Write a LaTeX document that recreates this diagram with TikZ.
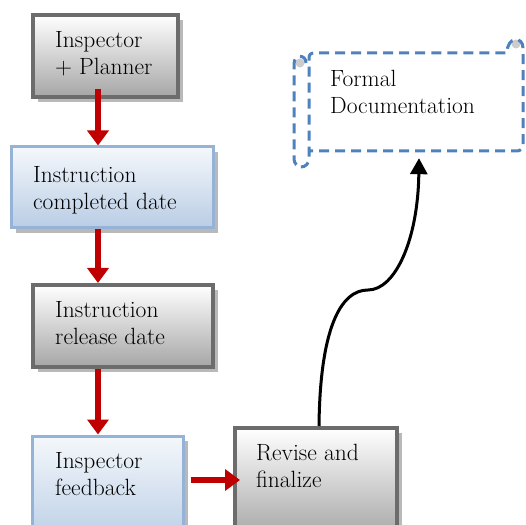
\documentclass[tikz,border=0pt]{standalone}
\usepackage{fontspec}
\usetikzlibrary{arrows.meta}
\usetikzlibrary{shadows}

\definecolor{boxgray}{RGB}{108,108,108}
\definecolor{boxblue}{RGB}{149,179,215}
\definecolor{shadeblue}{RGB}{185,205,229}
\definecolor{flowred}{RGB}{192,0,0}
\definecolor{scrollblue}{RGB}{79,129,189}

\begin{document}
\begin{tikzpicture}[x=1pt,y=1pt, font=\fontsize{23.5}{27}\selectfont,
    boxshadow/.style={drop shadow={shadow xshift=5pt, shadow yshift=-5pt, fill=gray!55, opacity=1}},
    graybox/.style={draw=boxgray, line width=4pt, top color=white, bottom color=gray!70, anchor=north west, inner sep=0pt, boxshadow},
    bluebox/.style={draw=boxblue, line width=3pt, top color=white!85!shadeblue, bottom color=shadeblue, anchor=north west, inner sep=0pt, boxshadow},
    lbl/.style={anchor=north west, inner sep=0pt, align=left},
    redarrow/.style={draw=flowred, line width=6pt, -{Triangle[width=21pt,length=15pt]}}]
      \useasboundingbox (0,0) rectangle (526,524);
      \clip (0,0) rectangle (526,524);

      % boxes
      \node[graybox, minimum width=145pt, minimum height=82pt] (planner) at (31,511) {};
      \node[bluebox, minimum width=202pt, minimum height=81pt] (completed) at (9.5,378.5) {};
      \node[graybox, minimum width=180pt, minimum height=82pt] (release) at (31,241) {};
      \node[bluebox, minimum width=151pt, minimum height=110pt] (feedback) at (30.5,89.5) {};
      \node[graybox, minimum width=162pt, minimum height=110pt] (revise) at (233,98) {};

      \node[lbl] (plannertxt) at (55,493) {Inspector\\+ Planner};
      \node[lbl] (completedtxt) at (33,358) {Instruction\\completed date};
      \node[lbl] (releasetxt) at (55,223) {Instruction\\release date};
      \node[lbl] (feedbacktxt) at (55,72) {Inspector\\feedback};
      \node[lbl] (revisetxt) at (256,80) {Revise and\\finalize};

      % scroll
      \node[minimum width=214pt, minimum height=98pt, inner sep=0pt] (doc) at (416,422) {};
      \fill[gray!40] (300,461) circle (4.5);
      \fill[gray!40] (516,480) circle (4.5);
      \draw[scrollblue, line width=3pt, dash pattern=on 10pt off 6pt]
        (306,461) .. controls (306,470) and (294,470) .. (294,460)
        [rounded corners=8pt] -- (294,357) -- (309,357) [sharp corners] -- (309,466)
        .. controls (309,470) and (311,471) .. (315,471) -- (507,471)
        .. controls (507,488) and (523,488) .. (523,476)
        [rounded corners=6pt] -- (523,373) -- (309,373);
      \node[lbl] (doctxt) at (330,454) {Formal\\Documentation};

      % connectors
      \coordinate (lane) at (98,0);
      \coordinate (row) at (0,44);
      \draw[redarrow] ([yshift=10pt]planner.south -| lane) -- (completed.north -| lane);
      \draw[redarrow] (completed.south -| lane) -- (release.north -| lane);
      \draw[redarrow] (release.south -| lane) -- (feedback.north -| lane);
      \draw[redarrow] ([xshift=6pt]feedback.east |- row) -- ([xshift=7pt]revise.west |- row);

      \draw[line width=3pt, -{Triangle[width=17pt,length=16pt]}] ([xshift=3pt]revise.north)
        .. controls +(1,96) and +(-28,0) .. (368,234)
        .. controls +(27,0) and +(-1,-82) .. ([xshift=3pt,yshift=-7pt]doc.south);
\end{tikzpicture}
\end{document}
